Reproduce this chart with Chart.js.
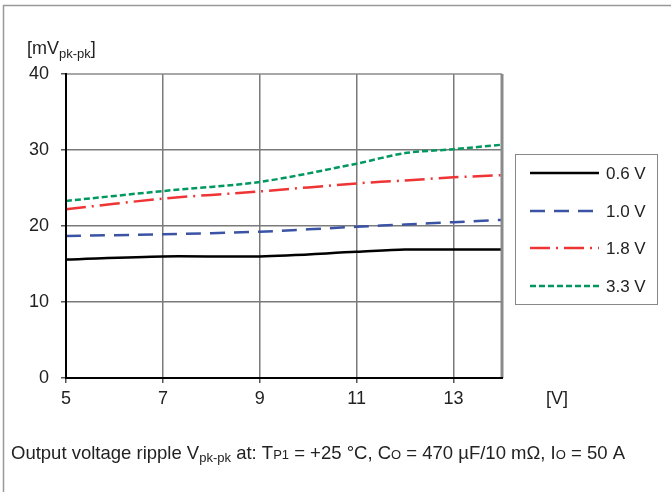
<!DOCTYPE html>
<html>
<head>
<meta charset="utf-8">
<script src="https://cdn.jsdelivr.net/npm/chart.js@4"></script>
<style>
  html, body { margin: 0; padding: 0; background: #fff; }
  #wrap { position: relative; width: 671px; height: 492px; }
</style>
</head>
<body>
<div id="wrap"><canvas id="rippleChart" width="671" height="492"></canvas></div>
<script>
// input voltage [V]
const vin = [5, 7, 9, 11, 12, 13, 14];
// ripple per output voltage [mVpk-pk]
const ripple06 = [15.6, 16.0, 16.0, 16.6, 16.9, 16.9, 16.9];
const ripple10 = [18.7, 18.9, 19.25, 19.9, 20.2, 20.5, 20.8];
const ripple18 = [22.2, 23.6, 24.55, 25.6, 26.0, 26.4, 26.7];
const ripple33 = [23.3, 24.6, 25.8, 28.2, 29.6, 30.1, 30.7];
const seriesNames = ["0.6 V", "1.0 V", "1.8 V", "3.3 V"];
const yTicks = [0, 10, 20, 30, 40];
const xTicks = [5, 7, 9, 11, 13];

const FONT = "'Liberation Sans', Arial, sans-serif";
const pts = (ys) => ys.map((y, i) => ({ x: vin[i], y: y }));

const styles = [
    { color: "#000000", dash: [] },
    { color: "#3a53a4", dash: [15, 9] },
    { color: "#ee3434", dash: [20, 6, 2, 6] },
    { color: "#00985f", dash: [6, 3] },
];

// frame, axis titles, caption and the boxed legend
const decor = {
    id: "decor",
    afterDraw(chart) {
        const ctx = chart.ctx;
        const a = chart.chartArea;
        ctx.save();

        // page frame (top + left)
        ctx.strokeStyle = "#999";
        ctx.lineWidth = 1.5;
        ctx.beginPath();
        ctx.moveTo(3.5, 492);
        ctx.lineTo(3.5, 5.5);
        ctx.lineTo(671, 5.5);
        ctx.stroke();

        // plot borders: grey top/right, black left/bottom
        ctx.strokeStyle = "#8a8a8a";
        ctx.lineWidth = 1.5;
        ctx.beginPath();
        ctx.moveTo(a.left, a.top);
        ctx.lineTo(a.right, a.top);
        ctx.stroke();
        ctx.lineWidth = 3;
        ctx.beginPath();
        ctx.moveTo(a.right, a.top);
        ctx.lineTo(a.right, a.bottom);
        ctx.stroke();
        ctx.strokeStyle = "#000";
        ctx.lineWidth = 2;
        ctx.beginPath();
        ctx.moveTo(a.left, a.top - 1);
        ctx.lineTo(a.left, a.bottom);
        ctx.lineTo(a.right + 1, a.bottom);
        ctx.stroke();

        ctx.fillStyle = "#222";
        ctx.textBaseline = "alphabetic";
        ctx.textAlign = "left";

        // y title [mVpk-pk]
        let x = 27;
        ctx.font = "18px " + FONT;
        ctx.fillText("[mV", x, 54);
        x += ctx.measureText("[mV").width;
        ctx.font = "13px " + FONT;
        ctx.fillText("pk-pk", x, 58);
        x += ctx.measureText("pk-pk").width;
        ctx.font = "18px " + FONT;
        ctx.fillText("]", x, 54);

        // x unit
        ctx.fillText("[V]", 546, 404);

        // caption with subscripts
        const parts = [
            ["Output voltage ripple V", 18.5, 0],
            ["pk-pk", 13, 3],
            [" at: T", 18.5, 0],
            ["P1", 13, 0],
            [" = +25 °C, C", 18.5, 0],
            ["O", 13, 0],
            [" = 470 µF/10 mΩ, I", 18.5, 0],
            ["O", 13, 0],
            [" = 50 A", 18.5, 0],
        ];
        x = 11;
        parts.forEach(([t, size, dy]) => {
            ctx.font = size + "px " + FONT;
            ctx.fillText(t, x, 459 + dy);
            x += ctx.measureText(t).width;
        });

        // legend box
        ctx.strokeStyle = "#888";
        ctx.lineWidth = 1;
        ctx.strokeRect(515.5, 154.5, 142, 150);
        const rowY = [173, 211, 248, 286];
        chart.data.datasets.forEach((ds, i) => {
            ctx.strokeStyle = ds.borderColor;
            ctx.lineWidth = 2.5;
            ctx.setLineDash(ds.borderDash);
            ctx.beginPath();
            ctx.moveTo(530, rowY[i]);
            ctx.lineTo(599, rowY[i]);
            ctx.stroke();
            ctx.setLineDash([]);
            ctx.font = "17px " + FONT;
            ctx.fillStyle = "#222";
            ctx.textBaseline = "middle";
            ctx.fillText(ds.label, 606, rowY[i] + 1);
        });
        ctx.restore();
    },
};

new Chart(document.getElementById("rippleChart"), {
    type: "line",
    data: {
        datasets: [ripple06, ripple10, ripple18, ripple33].map((d, i) => ({
            label: seriesNames[i],
            data: pts(d),
            borderColor: styles[i].color,
            borderDash: styles[i].dash,
            borderWidth: 2.5,
            pointRadius: 0,
            fill: false,
            tension: 0.3,
        })),
    },
    options: {
        responsive: false,
        animation: false,
        layout: { padding: { left: 0, top: 74, right: 169, bottom: 84 } },
        plugins: { legend: { display: false }, tooltip: { enabled: false } },
        scales: {
            x: {
                type: "linear",
                min: 5,
                max: 14,
                afterFit: (s) => { s.height = 30; },
                afterBuildTicks: (s) => { s.ticks = xTicks.map((v) => ({ value: v })); },
                border: { display: false },
                grid: {
                    color: (c) => (c.tick && c.tick.value === 5 ? "rgba(0,0,0,0)" : "#7a7a7a"),
                    lineWidth: 1.5,
                    drawTicks: true,
                    tickLength: 5,
                    tickColor: "#555",
                },
                ticks: { color: "#222", font: { family: FONT, size: 18 }, padding: 5, maxRotation: 0 },
            },
            y: {
                min: 0,
                max: 40,
                afterFit: (s) => { s.width = 66; },
                afterBuildTicks: (s) => { s.ticks = yTicks.map((v) => ({ value: v })); },
                border: { display: false },
                grid: {
                    color: (c) => (c.tick && (c.tick.value === 0 || c.tick.value === 40) ? "rgba(0,0,0,0)" : "#7a7a7a"),
                    lineWidth: 1.5,
                    drawTicks: true,
                    tickLength: 5,
                    tickColor: "#555",
                },
                ticks: { color: "#222", font: { family: FONT, size: 18 }, padding: 12 },
            },
        },
    },
    plugins: [decor],
});
</script>
</body>
</html>
